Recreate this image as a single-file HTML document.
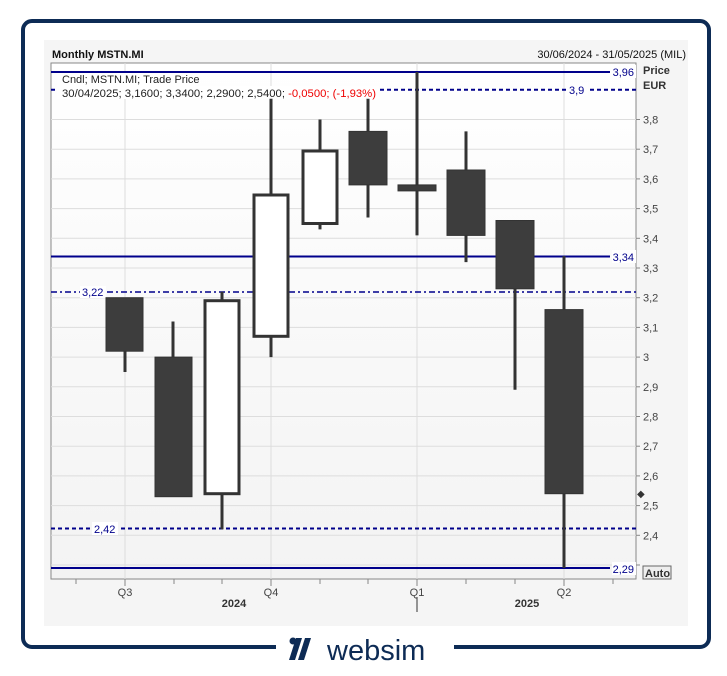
<!DOCTYPE html>
<html><head><meta charset="utf-8"><style>
body{margin:0;background:#fff;width:727px;height:671px;overflow:hidden;font-family:"Liberation Sans",sans-serif}
</style></head><body>
<svg width="727" height="671" xmlns="http://www.w3.org/2000/svg" font-family="Liberation Sans, sans-serif">
<rect x="23" y="21" width="686" height="626" rx="9" fill="#fff" stroke="#0d2b55" stroke-width="4"/>
<rect x="44" y="40" width="644" height="586" fill="#f5f5f5"/>
<defs><linearGradient id="g" x1="0" y1="0" x2="0" y2="1"><stop offset="0" stop-color="#fff"/><stop offset="1" stop-color="#f3f3f3"/></linearGradient></defs>
<rect x="51" y="63" width="585" height="516" fill="url(#g)" stroke="#888" stroke-width="1"/>
<text x="52" y="58" font-size="11" font-weight="bold" fill="#111">Monthly MSTN.MI</text>
<text x="686" y="58" font-size="11" fill="#111" text-anchor="end">30/06/2024 - 31/05/2025 (MIL)</text>
<g stroke="#ddd" stroke-width="1">
<line x1="51" x2="636" y1="119.5" y2="119.5"/><line x1="51" x2="636" y1="149.2" y2="149.2"/><line x1="51" x2="636" y1="178.9" y2="178.9"/><line x1="51" x2="636" y1="208.6" y2="208.6"/><line x1="51" x2="636" y1="238.3" y2="238.3"/><line x1="51" x2="636" y1="268" y2="268"/><line x1="51" x2="636" y1="297.7" y2="297.7"/><line x1="51" x2="636" y1="327.4" y2="327.4"/><line x1="51" x2="636" y1="357.1" y2="357.1"/><line x1="51" x2="636" y1="386.8" y2="386.8"/><line x1="51" x2="636" y1="416.5" y2="416.5"/><line x1="51" x2="636" y1="446.2" y2="446.2"/><line x1="51" x2="636" y1="475.9" y2="475.9"/><line x1="51" x2="636" y1="505.6" y2="505.6"/><line x1="51" x2="636" y1="535.3" y2="535.3"/><line x1="51" x2="636" y1="565" y2="565"/>
<line x1="125" x2="125" y1="63" y2="579"/><line x1="271" x2="271" y1="63" y2="579"/><line x1="417" x2="417" y1="63" y2="579"/><line x1="564" x2="564" y1="63" y2="579"/>
</g>
<g stroke="#888" stroke-width="1">
<line x1="636" x2="640" y1="119.5" y2="119.5"/><line x1="636" x2="640" y1="149.2" y2="149.2"/><line x1="636" x2="640" y1="178.9" y2="178.9"/><line x1="636" x2="640" y1="208.6" y2="208.6"/><line x1="636" x2="640" y1="238.3" y2="238.3"/><line x1="636" x2="640" y1="268" y2="268"/><line x1="636" x2="640" y1="297.7" y2="297.7"/><line x1="636" x2="640" y1="327.4" y2="327.4"/><line x1="636" x2="640" y1="357.1" y2="357.1"/><line x1="636" x2="640" y1="386.8" y2="386.8"/><line x1="636" x2="640" y1="416.5" y2="416.5"/><line x1="636" x2="640" y1="446.2" y2="446.2"/><line x1="636" x2="640" y1="475.9" y2="475.9"/><line x1="636" x2="640" y1="505.6" y2="505.6"/><line x1="636" x2="640" y1="535.3" y2="535.3"/><line x1="636" x2="640" y1="565" y2="565"/>
<line x1="76" x2="76" y1="579" y2="584"/><line x1="125" x2="125" y1="579" y2="586"/><line x1="174" x2="174" y1="579" y2="584"/><line x1="222" x2="222" y1="579" y2="584"/><line x1="271" x2="271" y1="579" y2="586"/><line x1="320" x2="320" y1="579" y2="584"/><line x1="368" x2="368" y1="579" y2="584"/><line x1="417" x2="417" y1="579" y2="586"/><line x1="466" x2="466" y1="579" y2="584"/><line x1="515" x2="515" y1="579" y2="584"/><line x1="564" x2="564" y1="579" y2="586"/><line x1="613" x2="613" y1="579" y2="584"/>
</g>
<line x1="417" x2="417" y1="597" y2="612" stroke="#333"/>
<g font-size="11" fill="#444">
<text x="643" y="123.5">3,8</text><text x="643" y="153.2">3,7</text><text x="643" y="182.9">3,6</text><text x="643" y="212.6">3,5</text><text x="643" y="242.3">3,4</text><text x="643" y="272">3,3</text><text x="643" y="301.7">3,2</text><text x="643" y="331.4">3,1</text><text x="643" y="361.1">3</text><text x="643" y="390.8">2,9</text><text x="643" y="420.5">2,8</text><text x="643" y="450.2">2,7</text><text x="643" y="479.9">2,6</text><text x="643" y="509.6">2,5</text><text x="643" y="539.3">2,4</text>
<text x="125" y="596" text-anchor="middle">Q3</text><text x="271" y="596" text-anchor="middle">Q4</text><text x="417" y="596" text-anchor="middle">Q1</text><text x="564" y="596" text-anchor="middle">Q2</text>
</g>
<g font-size="11" font-weight="bold" fill="#333">
<text x="234" y="607" text-anchor="middle">2024</text><text x="527" y="607" text-anchor="middle">2025</text>
<text x="643" y="74">Price</text><text x="643" y="89">EUR</text>
</g>
<rect x="643" y="566" width="28" height="13" fill="#eee" stroke="#666"/>
<text x="645" y="577" font-size="11" font-weight="bold" fill="#333">Auto</text>
<text x="637" y="497" font-size="10" fill="#333">◆</text>
<g stroke="#00008b" stroke-width="2">
<line x1="51" x2="610" y1="72" y2="72"/>
<line x1="51" x2="636" y1="89.8" y2="89.8" stroke-dasharray="4,3"/>
<line x1="51" x2="610" y1="256.5" y2="256.5"/>
<line x1="51" x2="636" y1="292" y2="292" stroke-dasharray="6,3,2,3" stroke-width="1.5"/>
<line x1="51" x2="636" y1="528.5" y2="528.5" stroke-dasharray="4,3"/>
<line x1="51" x2="610" y1="568" y2="568"/>
</g>
<g font-size="11" fill="#00008b">
<rect x="612" y="65" width="24" height="13" fill="#fff"/><text x="634" y="76" text-anchor="end">3,96</text>
<rect x="566" y="83" width="22" height="13" fill="#fff"/><text x="569" y="94">3,9</text>
<rect x="612" y="250" width="24" height="13" fill="#fff"/><text x="634" y="261" text-anchor="end">3,34</text>
<rect x="80" y="286" width="26" height="12" fill="#fff"/><text x="82" y="296">3,22</text>
<rect x="92" y="522" width="26" height="13" fill="#fff"/><text x="94" y="533">2,42</text>
<rect x="612" y="562" width="24" height="13" fill="#fff"/><text x="634" y="573" text-anchor="end">2,29</text>
</g>
<rect x="57" y="73" width="138" height="13" fill="#fff"/>
<rect x="57" y="86" width="322" height="13" fill="#fff"/>
<text x="62" y="83" font-size="11" fill="#222">Cndl; MSTN.MI; Trade Price</text>
<text x="62" y="97" font-size="11" fill="#222" textLength="314" lengthAdjust="spacingAndGlyphs">30/04/2025; 3,1600; 3,3400; 2,2900; 2,5400; <tspan fill="#e00">-0,0500; (-1,93%)</tspan></text>
<g stroke="#333" stroke-width="3" fill="#3d3d3d">
<line x1="125" x2="125" y1="297.7" y2="372"/><rect x="106" y="297.7" width="37" height="53.5" stroke-width="1"/>
<line x1="173" x2="173" y1="321.5" y2="496.7"/><rect x="155" y="357.1" width="37" height="139.6" stroke-width="1"/>
<line x1="222" x2="222" y1="291.8" y2="529.4"/><rect x="205" y="300.7" width="34" height="193" fill="#fff"/>
<line x1="271" x2="271" y1="98.7" y2="357.1"/><rect x="254" y="195" width="34" height="141.3" fill="#fff"/>
<line x1="320" x2="320" y1="119.5" y2="229.4"/><rect x="303" y="151" width="34" height="72.5" fill="#fff"/>
<line x1="368" x2="368" y1="98.7" y2="217.5"/><rect x="349" y="131.4" width="38" height="53.5" stroke-width="1"/>
<line x1="417" x2="417" y1="72" y2="235.4"/><rect x="398" y="184.9" width="38" height="6" stroke-width="1"/>
<line x1="466" x2="466" y1="131.4" y2="262.1"/><rect x="447" y="170" width="38" height="65.4" stroke-width="1"/>
<line x1="515" x2="515" y1="220.5" y2="389.8"/><rect x="496" y="220.5" width="38" height="68.3" stroke-width="1"/>
<line x1="564" x2="564" y1="256.1" y2="568"/><rect x="545" y="309.6" width="38" height="184.1" stroke-width="1"/>
</g>
<rect x="276" y="636" width="178" height="24" fill="#fff"/>
<g fill="#0d2b55">
<circle cx="293" cy="641" r="3.5"/>
<polygon points="296,638 302,638 295,660 289,660"/>
<polygon points="305,638 311,638 304,660 298,660"/>
</g>
<text x="327" y="660" font-size="29" fill="#0d2b55" font-family="Liberation Sans, sans-serif">websim</text>
</svg>
</body></html>
